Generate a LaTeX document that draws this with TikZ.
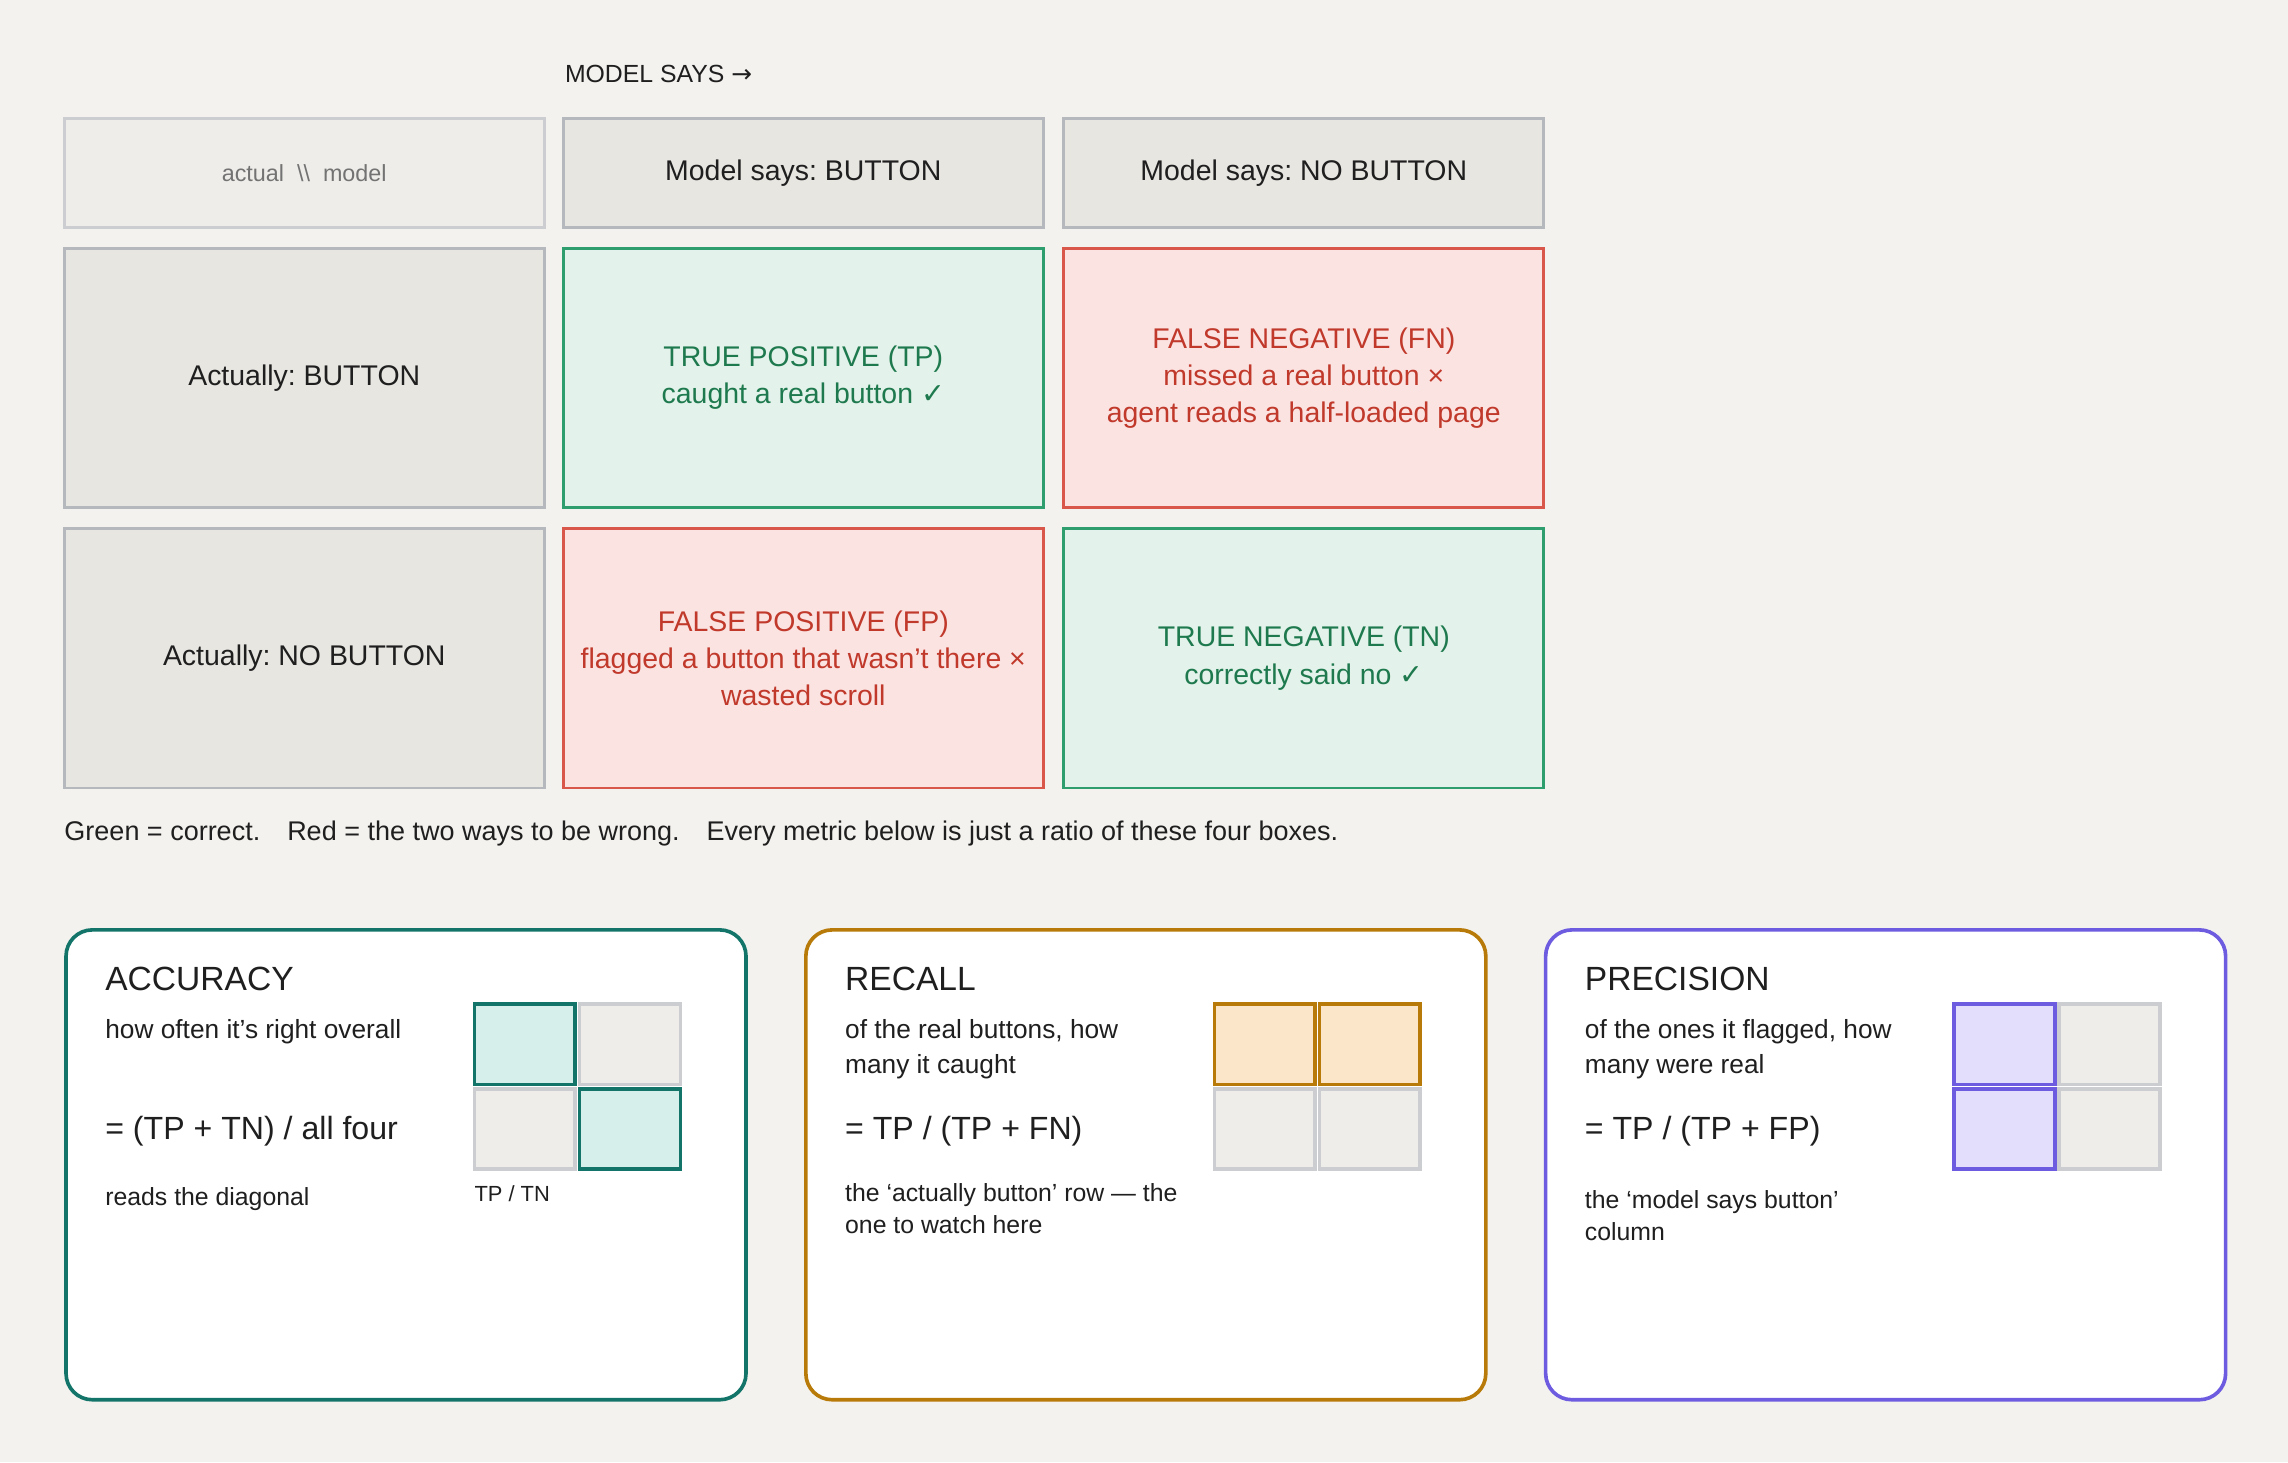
\documentclass[tikz,border=0pt]{standalone}
\usepackage{fontspec}
\setmainfont{Liberation Sans}
\newfontfamily\symfont{DejaVu Sans}
\usetikzlibrary{positioning}
\definecolor{bgc}{HTML}{F3F2EE}
\definecolor{hdfill}{HTML}{E8E6E1}
\definecolor{hdline}{HTML}{B5B8BC}
\definecolor{cornfill}{HTML}{EEEDE9}
\definecolor{grnfill}{HTML}{E3F2EA}
\definecolor{grnline}{HTML}{2E9E6E}
\definecolor{grntext}{HTML}{1E7A4E}
\definecolor{redfill}{HTML}{FBE3E2}
\definecolor{redline}{HTML}{D9574A}
\definecolor{redtext}{HTML}{C0392B}
\definecolor{teal}{HTML}{13756A}
\definecolor{tealfill}{HTML}{D6EFEA}
\definecolor{amber}{HTML}{B87A08}
\definecolor{amberfill}{HTML}{FCE6CA}
\definecolor{violet}{HTML}{6E5CE0}
\definecolor{violetfill}{HTML}{E2DEFB}
\definecolor{cellfill}{HTML}{EEEDE9}
\definecolor{cellline}{HTML}{CBCDD0}
\definecolor{ink}{HTML}{1F1F1F}
\newcommand{\fs}[1]{\fontsize{#1}{#1}\selectfont}
\frenchspacing

\begin{document}
\begin{tikzpicture}[x=1pt,y=-1pt,
	cell/.style={draw,line width=2pt,anchor=north west,inner sep=0pt,outer sep=0pt,
		align=center,font=\fs{19.5},text=ink},
	big/.style={cell,minimum width=329pt,minimum height=178pt},
	head/.style={cell,minimum width=329pt,minimum height=75pt,fill=hdfill,draw=hdline},
	good/.style={big,fill=grnfill,draw=grnline,text=grntext},
	bad/.style={big,fill=redfill,draw=redline,text=redtext},
	card/.style={draw,line width=2.5pt,fill=white,rounded corners=18pt,anchor=north west,
		minimum width=466pt,minimum height=322pt,inner sep=0pt},
	mini/.style={draw,line width=2.5pt,anchor=north west,minimum width=69pt,minimum height=55pt,
		inner sep=0pt,fill=cellfill,draw=cellline},
	txt/.style={anchor=west,inner sep=0pt,text=ink,align=left}]
	\fill[bgc] (0,0) rectangle (1568,1002);
	\useasboundingbox (0,0) rectangle (1568,1002);
	% header
	\node[txt,font=\fs{17}] (says) at (387,51) {MODEL SAYS {\symfont →}};
	\node[head,fill=cornfill,draw=cellline,text=gray!90!black,font=\fs{16}] (corner) at (44,81) {actual \ \textbackslash\textbackslash\ \ model};
	\node[head] (hbtn) at (386,81) {Model says: BUTTON};
	\node[head] (hnob) at (729,81) {Model says: NO BUTTON};
	% matrix
	\node[big,fill=hdfill,draw=hdline] (abtn) at (44,170) {Actually: BUTTON};
	\node[good] (tp) at (386,170) {TRUE POSITIVE (TP)\\[6pt]caught a real button {\symfont ✓}};
	\node[bad] (fn) at (729,170) {FALSE NEGATIVE (FN)\\[6pt]missed a real button ×\\[6pt]agent reads a half-loaded page};
	\node[big,fill=hdfill,draw=hdline] (anob) at (44,362) {Actually: NO BUTTON};
	\node[bad] (fp) at (386,362) {FALSE POSITIVE (FP)\\[6pt]flagged a button that wasn't there ×\\[6pt]wasted scroll};
	\node[good] (tn) at (729,362) {TRUE NEGATIVE (TN)\\[6pt]correctly said no {\symfont ✓}};
	\node[txt,font=\fs{18.5}] (legend) at (44,571) {Green = correct.\quad Red = the two ways to be wrong.\quad Every metric below is just a ratio of these four boxes.};
	% accuracy
	\node[card,draw=teal] (acc) at (44,636) {};
	\node[txt,font=\fs{23}] (acct) at (72,671) {ACCURACY};
	\node[txt,font=\fs{18}] (accd) at (72,707) {how often it's right overall};
	\node[txt,font=\fs{22}] (accf) at (72,775) {= (TP + TN) / all four};
	\node[txt,font=\fs{17}] (accn) at (72,822) {reads the diagonal};
	\node[mini] (a11) at (396,687) {};
	\node[mini] (a21) at (324,745) {};
	\node[mini,fill=tealfill,draw=teal] (a00) at (324,687) {};
	\node[mini,fill=tealfill,draw=teal] (a22) at (396,745) {};
	\node[txt,font=\fs{15}] (accl) at (325,818) {TP / TN};
	% recall
	\node[card,draw=amber] (rec) at (551,636) {};
	\node[txt,font=\fs{23}] (rect) at (579,671) {RECALL};
	\node[txt,font=\fs{18}] (recd) at (579,719) {of the real buttons, how\\[6pt]many it caught};
	\node[txt,font=\fs{22}] (recf) at (579,775) {= TP / (TP + FN)};
	\node[txt,font=\fs{17}] (recn) at (579,828) {the ‘actually button’ row — the\\[5pt]one to watch here};
	\node[mini] (r21) at (831,745) {};
	\node[mini] (r22) at (903,745) {};
	\node[mini,fill=amberfill,draw=amber] (r11) at (831,687) {};
	\node[mini,fill=amberfill,draw=amber] (r12) at (903,687) {};
	% precision
	\node[card,draw=violet] (pre) at (1058,636) {};
	\node[txt,font=\fs{23}] (pret) at (1086,671) {PRECISION};
	\node[txt,font=\fs{18}] (pred) at (1086,719) {of the ones it flagged, how\\[6pt]many were real};
	\node[txt,font=\fs{22}] (pref) at (1086,775) {= TP / (TP + FP)};
	\node[txt,font=\fs{17}] (pren) at (1086,833) {the ‘model says button’\\[5pt]column};
	\node[mini] (p12) at (1410,687) {};
	\node[mini] (p22) at (1410,745) {};
	\node[mini,fill=violetfill,draw=violet] (p11) at (1338,687) {};
	\node[mini,fill=violetfill,draw=violet] (p21) at (1338,745) {};
\end{tikzpicture}
\end{document}
